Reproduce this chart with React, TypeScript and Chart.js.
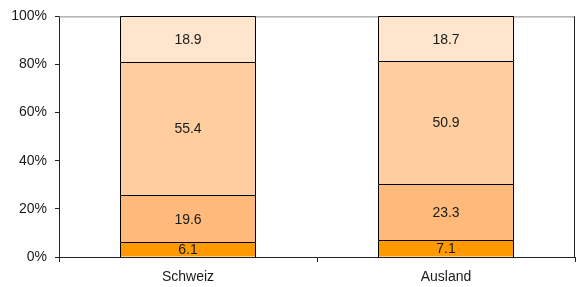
import React, { useEffect, useRef } from "react";
import { Chart, registerables } from "chart.js";

Chart.register(...registerables);

const categories = ["Schweiz", "Ausland"];
const seriesNames = ["A", "B", "C", "D"];
const seriesValues = [
  [6.1, 7.1],
  [19.6, 23.3],
  [55.4, 50.9],
  [18.9, 18.7],
];
const seriesColors = ["#FF9900", "#FFB97B", "#FFCE9E", "#FFE5CC"];
const yTicks = [0, 20, 40, 60, 80, 100];

const FONT = "'Liberation Sans', Arial, sans-serif";

const labelPlugin = {
  id: "segLabels",
  afterDatasetsDraw(chart: any) {
    const ctx = chart.ctx;
    ctx.save();
    // crisp borders
    ctx.lineWidth = 1;
    ctx.strokeStyle = "#000";
    chart.data.datasets.forEach((ds: any, di: number) => {
      const meta = chart.getDatasetMeta(di);
      meta.data.forEach((el: any) => {
        const l = Math.round(el.x - el.width / 2) + 0.5;
        const r = Math.round(el.x + el.width / 2) - 0.5;
        const t = Math.round(el.y) + 0.5;
        const b = Math.round(el.base);
        ctx.beginPath();
        ctx.moveTo(l, b);
        ctx.lineTo(l, t);
        ctx.lineTo(r, t);
        ctx.lineTo(r, b);
        ctx.stroke();
      });
    });
    ctx.font = `14px ${FONT}`;
    ctx.fillStyle = "#1a1a1a";
    ctx.textAlign = "center";
    ctx.textBaseline = "middle";
    chart.data.datasets.forEach((ds: any, di: number) => {
      const meta = chart.getDatasetMeta(di);
      meta.data.forEach((el: any, i: number) => {
        const v = ds.data[i];
        const cy = (el.y + el.base) / 2;
        ctx.fillText(v.toFixed(1), el.x, cy + 1);
      });
    });
    ctx.restore();
  },
};

const framePlugin = {
  id: "frame",
  beforeDatasetsDraw(chart: any) {
    const { ctx, chartArea: a } = chart;
    ctx.save();
    ctx.lineWidth = 1;
    ctx.strokeStyle = "#8a8a8a";
    ctx.beginPath();
    ctx.moveTo(a.left, a.top + 0.5);
    ctx.lineTo(a.right, a.top + 0.5);
    ctx.stroke();
    ctx.strokeStyle = "#222";
    ctx.beginPath();
    ctx.moveTo(a.right - 0.5, a.top);
    ctx.lineTo(a.right - 0.5, a.bottom);
    ctx.stroke();
    ctx.restore();
  },
};

export default function App() {
  const ref = useRef<HTMLCanvasElement>(null);
  useEffect(() => {
    document.body.style.margin = "0";
    const chart = new Chart(ref.current!, {
      type: "bar",
      data: {
        labels: categories,
        datasets: seriesValues.map((vals, i) => ({
          label: seriesNames[i],
          data: vals,
          backgroundColor: seriesColors[i],
          borderWidth: 0,
          barPercentage: 0.527,
          categoryPercentage: 1,
        })),
      },
      options: {
        animation: false,
        responsive: false,
        maintainAspectRatio: false,
        layout: { padding: { top: 15, right: 1, left: 0, bottom: 0 } },
        plugins: { legend: { display: false }, tooltip: { enabled: false } },
        scales: {
          x: {
            stacked: true,
            grid: {
              offset: true,
              drawOnChartArea: false,
              drawTicks: true,
              tickLength: 5,
              color: "#222",
            },
            border: { color: "#222", width: 1 },
            ticks: { color: "#1a1a1a", font: { family: FONT, size: 14 }, padding: 7 },
            afterFit(s: any) {
              s.height = 30;
            },
          },
          y: {
            stacked: true,
            min: 0,
            max: 100,
            afterBuildTicks(s: any) {
              s.ticks = yTicks.map((v) => ({ value: v }));
            },
            grid: { drawOnChartArea: false, drawTicks: true, tickLength: 4, color: "#222" },
            border: { color: "#222", width: 1 },
            ticks: {
              color: "#1a1a1a",
              font: { family: FONT, size: 14 },
              padding: 8,
              callback: (v: any) => `${v}%`,
            },
            afterFit(s: any) {
              s.width = 59;
            },
          },
        },
      },
      plugins: [framePlugin, labelPlugin],
    });
    return () => chart.destroy();
  }, []);
  return (
    <div style={{ width: 576, height: 287 }}>
      <canvas ref={ref} width={576} height={287} />
    </div>
  );
}
